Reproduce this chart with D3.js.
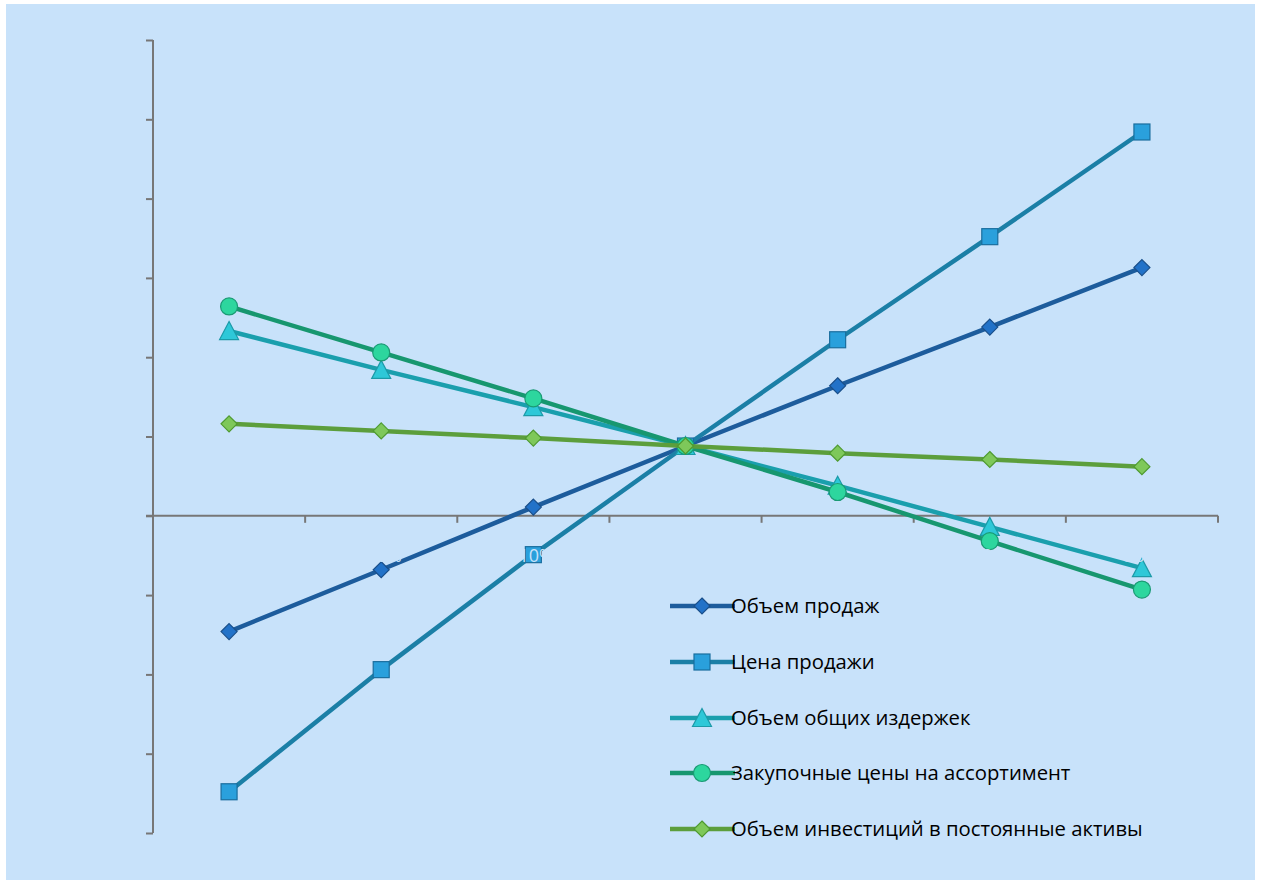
<!DOCTYPE html>
<html><head><meta charset="utf-8">
<script src="https://cdn.jsdelivr.net/npm/d3@7"></script>
<style>html,body{margin:0;padding:0;background:#fff;}svg{display:block;}</style>
</head><body>
<svg id="c" width="1261" height="883"></svg>
<script>
const categories = ["-30%", "-20%", "-10%", "0%", "10%", "20%", "30%"];
const salesVolume = [-14.6, -6.8, 1.1, 8.8, 16.4, 23.8, 31.3];
const salesPrice = [-34.8, -19.4, -4.9, 8.8, 22.2, 35.2, 48.4];
const totalCosts = [23.3, 18.4, 13.7, 8.8, 3.8, -1.4, -6.6];
const purchasePrices = [26.4, 20.6, 14.8, 8.8, 3.0, -3.2, -9.3];
const investments = [11.6, 10.7, 9.8, 8.8, 7.9, 7.1, 6.2];
const seriesNames = ["Объем продаж", "Цена продажи", "Объем общих издержек", "Закупочные цены на ассортимент", "Объем инвестиций в постоянные активы"];
const yTicks = [-40, -30, -20, -10, 0, 10, 20, 30, 40, 50, 60];

const styles = [
  {line:"#1d5c9c", fill:"#2272c8", stroke:"#1a4f8a", shape:"diamond", size:16},
  {line:"#1b7fa6", fill:"#2aa0dc", stroke:"#1a6e9e", shape:"square", size:16},
  {line:"#1a9fad", fill:"#2ec8d8", stroke:"#1c9aa8", shape:"triangle", size:19},
  {line:"#17976f", fill:"#2dd69e", stroke:"#1a9a74", shape:"circle", size:17},
  {line:"#5c9e3c", fill:"#7ec85a", stroke:"#4e9a30", shape:"diamond", size:16}
];
const series = [salesVolume, salesPrice, totalCosts, purchasePrices, investments];

const svg = d3.select("#c");
svg.append("rect").attr("x",6).attr("y",4).attr("width",1249).attr("height",876).attr("fill","#c8e2fa");

const x = d3.scaleBand().domain(categories).range([153, 1218]).padding(0);
const cx = c => x(c) + x.bandwidth()/2;
const y = d3.scaleLinear().domain([-40, 60]).range([833, 40]);

const axisColor = "#777";
const yAxis = svg.append("g").attr("transform","translate(153,0)")
  .call(d3.axisLeft(y).tickValues(yTicks).tickSize(7).tickFormat(""));
yAxis.select(".domain").attr("stroke",axisColor).attr("stroke-width",2).attr("d","M0,"+y(60)+"V"+y(-40));
yAxis.selectAll(".tick line").attr("stroke",axisColor).attr("stroke-width",2);

const gx = svg.append("g");
gx.append("line").attr("x1",146).attr("x2",1218).attr("y1",y(0)).attr("y2",y(0)).attr("stroke",axisColor).attr("stroke-width",2);
const bounds = categories.map(c => x(c)).concat([x.range()[1]]);
gx.selectAll("line.t").data(bounds.slice(1)).join("line").attr("class","t")
  .attr("x1",d=>d).attr("x2",d=>d).attr("y1",y(0)).attr("y2",y(0)+7)
  .attr("stroke",axisColor).attr("stroke-width",2);

const line = d3.line().x((d,i)=>cx(categories[i])).y(d=>y(d));

function marker(g, st, px, py) {
  const s = st.size;
  let el;
  if (st.shape === "diamond") {
    el = g.append("path").attr("d", `M${px},${py-s/2}L${px+s/2},${py}L${px},${py+s/2}L${px-s/2},${py}Z`);
  } else if (st.shape === "square") {
    el = g.append("rect").attr("x",px-s/2).attr("y",py-s/2).attr("width",s).attr("height",s);
  } else if (st.shape === "triangle") {
    el = g.append("path").attr("d", `M${px},${py-s/2}L${px+s/2},${py+s/2-1}L${px-s/2},${py+s/2-1}Z`);
  } else {
    el = g.append("circle").attr("cx",px).attr("cy",py).attr("r",s/2);
  }
  el.attr("fill",st.fill).attr("stroke",st.stroke).attr("stroke-width",1.2);
}

series.forEach((vals, k) => {
  const st = styles[k];
  const g = svg.append("g");
  g.append("path").datum(vals).attr("d", line).attr("fill","none").attr("stroke",st.line).attr("stroke-width",4.5).attr("stroke-linejoin","round");
  vals.forEach((v,i) => marker(g, st, cx(categories[i]), y(v)));
});

// category labels: drawn in the background colour, as in the reference
svg.append("g").selectAll("text").data(categories).join("text")
  .attr("x", d=>cx(d)).attr("y", y(0)+46).attr("text-anchor","middle")
  .attr("font-family","Open Sans, sans-serif").attr("font-size",18)
  .attr("fill","#c8e2fa").text(d=>d);

const leg = svg.append("g");
const legY = [606, 662, 718, 773, 829];
seriesNames.forEach((n,k) => {
  const st = styles[k];
  const gy = legY[k];
  leg.append("line").attr("x1",670).attr("x2",735).attr("y1",gy).attr("y2",gy).attr("stroke",st.line).attr("stroke-width",4.5);
  marker(leg, st, 702, gy);
  leg.append("text").attr("x",731).attr("y",gy+7).attr("font-family","Open Sans, sans-serif").attr("font-size",20.3)
    .attr("fill","#000").text(n);
});
</script>
</body></html>
